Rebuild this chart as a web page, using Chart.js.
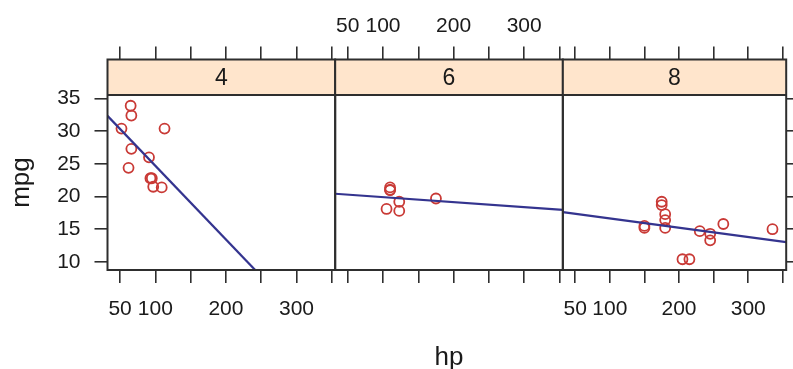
<!DOCTYPE html>
<html>
<head>
<meta charset="utf-8">
<script src="https://cdn.jsdelivr.net/npm/chart.js@4/dist/chart.umd.min.js"></script>
<style>
html,body{margin:0;padding:0;background:#fff;width:793px;height:369px;overflow:hidden}
canvas{position:absolute;left:0;top:0}
</style>
</head>
<body>
<canvas id="p0" width="793" height="369"></canvas>
<canvas id="p1" width="793" height="369"></canvas>
<canvas id="p2" width="793" height="369"></canvas>
<script>
// ---- data ----
const panelNames = ['4', '6', '8'];
const hp4  = [52, 62, 65, 66, 66, 91, 93, 95, 97, 109, 113];
const mpg4 = [30.4, 24.4, 33.9, 32.4, 27.3, 26.0, 22.8, 22.8, 21.5, 21.4, 30.4];
const hp6  = [105, 110, 110, 110, 123, 123, 175];
const mpg6 = [18.1, 21.0, 21.0, 21.4, 19.2, 17.8, 19.7];
const hp8  = [150, 150, 175, 175, 180, 180, 180, 205, 215, 230, 245, 245, 264, 335];
const mpg8 = [15.5, 15.2, 18.7, 19.2, 16.4, 17.3, 15.2, 10.4, 10.4, 14.7, 14.3, 13.3, 15.8, 15.0];
const xTickValues = [50, 100, 150, 200, 250, 300, 350];
const xTickLabels = ['50', '100', '', '200', '', '300', ''];
const yTickValues = [10, 15, 20, 25, 30, 35];
const yTickLabels = ['10', '15', '20', '25', '30', '35'];
const xTitle = 'hp';
const yTitle = 'mpg';

const hpSets = [hp4, hp6, hp8];
const mpgSets = [mpg4, mpg6, mpg8];

// ---- limits like lattice (7% padding of the full data range) ----
const allHp = hp4.concat(hp6, hp8), allMpg = mpg4.concat(mpg6, mpg8);
function lim(a) { const lo = Math.min(...a), hi = Math.max(...a), d = (hi - lo) * 0.07; return [lo - d, hi + d]; }
const [xMin, xMax] = lim(allHp);
const [yMin, yMax] = lim(allMpg);

function lsFit(xs, ys) {
  const n = xs.length;
  const mx = xs.reduce((s, v) => s + v, 0) / n, my = ys.reduce((s, v) => s + v, 0) / n;
  let sxy = 0, sxx = 0;
  for (let i = 0; i < n; i++) { sxy += (xs[i] - mx) * (ys[i] - my); sxx += (xs[i] - mx) ** 2; }
  const b = sxy / sxx; return { a: my - b * mx, b };
}

// ---- layout ----
const W = 793, H = 369;
const PL = 107.5, PW = 227.67, PT = 95, PB = 270, STRIP_TOP = 59.5;
const FONT = '"Liberation Sans", Arial, sans-serif';
const AXIS_COL = '#2e2e2e';
const TEXT_COL = '#1a1a1a';

const panelFrame = {
  id: 'panelFrame',
  beforeDraw(chart, args, opts) {
    const { ctx, chartArea: a } = chart;
    const s = chart.scales.xStrip;
    ctx.save();
    ctx.fillStyle = '#ffe5cc';
    ctx.fillRect(a.left, s.top, a.right - a.left, s.bottom - s.top);
    ctx.restore();
  },
  afterDraw(chart, args, opts) {
    const { ctx, chartArea: a } = chart;
    const s = chart.scales.xStrip;
    ctx.save();
    ctx.strokeStyle = AXIS_COL; ctx.lineWidth = 2;
    ctx.strokeRect(a.left, s.top, a.right - a.left, a.bottom - s.top);
    ctx.beginPath(); ctx.moveTo(a.left, a.top); ctx.lineTo(a.right, a.top); ctx.stroke();
    ctx.fillStyle = TEXT_COL;
    ctx.font = '23px ' + FONT;
    ctx.textAlign = 'center'; ctx.textBaseline = 'middle';
    ctx.fillText(opts.label, (a.left + a.right) / 2, (s.top + s.bottom) / 2 + 1);
    ctx.restore();
  }
};

function fixSize(prop, val) {
  return function (s) { s[prop] = val; s.paddingLeft = 0; s.paddingRight = 0; s.paddingTop = 0; s.paddingBottom = 0; };
}
function setXTicks(s) { s.ticks = xTickValues.map(v => ({ value: v })); }
function setYTicks(s) { s.ticks = yTickValues.map(v => ({ value: v })); }

const gridTicks = { display: true, drawOnChartArea: false, drawTicks: true, tickLength: 13, color: AXIS_COL, lineWidth: 1.6 };

for (let i = 0; i < 3; i++) {
  const left = PL + i * PW, right = left + PW;
  const fit = lsFit(hpSets[i], mpgSets[i]);
  const pts = hpSets[i].map((x, k) => ({ x, y: mpgSets[i][k] }));
  const linePts = [{ x: xMin, y: fit.a + fit.b * xMin }, { x: xMax, y: fit.a + fit.b * xMax }];
  const bottomLabels = (i !== 1);
  const topLabels = (i === 1);

  const scales = {
    x: {
      type: 'linear', position: 'bottom', min: xMin, max: xMax,
      afterBuildTicks: setXTicks,
      afterFit: fixSize('height', H - PB),
      border: { display: false },
      grid: gridTicks,
      ticks: { display: bottomLabels, padding: 14, color: TEXT_COL, font: { size: 21, family: FONT }, maxRotation: 0, autoSkip: false,
               callback: (v, idx) => xTickLabels[idx] },
      title: { display: i === 1, text: xTitle, color: TEXT_COL, font: { size: 26, family: FONT }, padding: { top: 0, bottom: -4 } }
    },
    xStrip: {
      type: 'linear', position: 'top', weight: 0, display: true,
      afterFit: fixSize('height', PT - STRIP_TOP),
      border: { display: false }, grid: { display: false }, ticks: { display: false }
    },
    xTop: {
      type: 'linear', position: 'top', weight: 1, min: xMin, max: xMax,
      afterBuildTicks: setXTicks,
      afterFit: fixSize('height', STRIP_TOP),
      border: { display: false },
      grid: gridTicks,
      ticks: { display: topLabels, padding: 8, color: TEXT_COL, font: { size: 21, family: FONT }, maxRotation: 0, autoSkip: false,
               callback: (v, idx) => xTickLabels[idx] }
    },
    y: {
      type: 'linear', position: 'left', min: yMin, max: yMax, display: i === 0,
      afterBuildTicks: setYTicks,
      afterFit: fixSize('width', i === 0 ? left : 0),
      border: { display: false },
      grid: gridTicks,
      ticks: { padding: 14, color: TEXT_COL, font: { size: 21, family: FONT }, autoSkip: false,
               callback: (v, idx) => yTickLabels[idx] },
      title: { display: true, text: yTitle, color: TEXT_COL, font: { size: 26, family: FONT }, padding: { top: 6, bottom: 0 } }
    }
  };
  let padRight = W - right;
  if (i === 2) {
    scales.yRight = {
      type: 'linear', position: 'right', min: yMin, max: yMax,
      afterBuildTicks: setYTicks,
      afterFit: fixSize('width', W - right),
      border: { display: false },
      grid: gridTicks,
      ticks: { display: false }
    };
    padRight = 0;
  }

  new Chart(document.getElementById('p' + i), {
    type: 'scatter',
    data: {
      datasets: [
        { type: 'line', data: linePts, borderColor: '#34348f', borderWidth: 2.2, pointRadius: 0, fill: false, tension: 0 },
        { type: 'scatter', data: pts, borderColor: '#c93a36', backgroundColor: 'rgba(0,0,0,0)', borderWidth: 1.8, pointRadius: 5, pointHoverRadius: 5 }
      ]
    },
    options: {
      responsive: false, animation: false, devicePixelRatio: 1,
      layout: { padding: { left: i === 0 ? 0 : left, right: padRight, top: 0, bottom: 0 } },
      plugins: { legend: { display: false }, tooltip: { enabled: false }, panelFrame: { label: panelNames[i] } },
      events: [],
      scales
    },
    plugins: [panelFrame]
  });
}
</script>
</body>
</html>
